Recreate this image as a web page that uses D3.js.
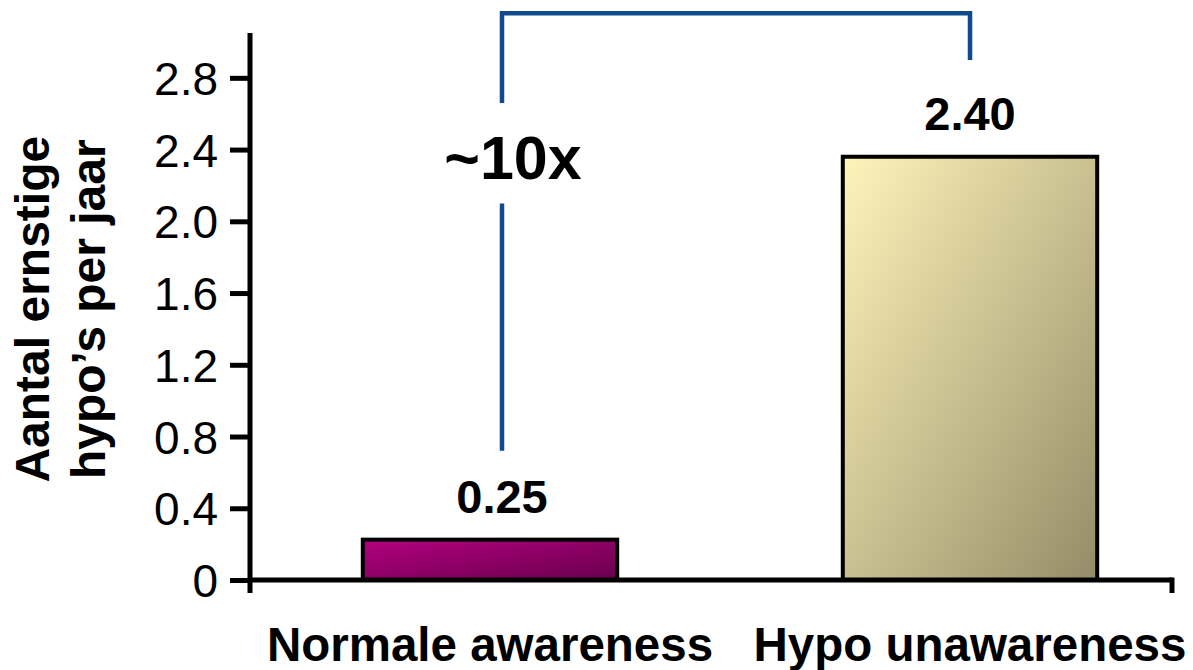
<!DOCTYPE html>
<html>
<head>
<meta charset="utf-8">
<script src="https://cdn.jsdelivr.net/npm/d3@7"></script>
<style>
  body { margin: 0; background: #fff; }
  text { font-family: "Liberation Sans", Arial, sans-serif; fill: #000; }
</style>
</head>
<body>
<div id="chart"></div>
<script>
// data
var categories = ["Normale awareness", "Hypo unawareness"];
var values = [0.225, 2.36];
var valueLabels = ["0.25", "2.40"];
var yTicks = [0, 0.4, 0.8, 1.2, 1.6, 2.0, 2.4, 2.8];
var yTitle = ["Aantal ernstige", "hypo\u2019s per jaar"];
var ratioLabel = "~10x";

var W = 1193, H = 670;

var svg = d3.select("#chart").append("svg")
    .attr("width", W)
    .attr("height", H);

// gradients
var defs = svg.append("defs");
var grads = [["#b3007f", "#68004c"], ["#fef4ba", "#958c68"]];
grads.forEach(function (g, i) {
    var lg = defs.append("linearGradient")
        .attr("id", "grad" + i)
        .attr("x1", 0).attr("y1", 0).attr("x2", 1).attr("y2", 1);
    lg.append("stop").attr("offset", "0%").attr("stop-color", g[0]);
    lg.append("stop").attr("offset", "100%").attr("stop-color", g[1]);
});

// schalen
var y = d3.scaleLinear().domain([0, 3.05]).range([580, 33]);
var x = d3.scaleBand().domain(categories).range([250, 1210]);
var barW = x.bandwidth() * 0.53;

// staven
svg.selectAll("rect.bar")
    .data(values)
    .enter()
    .append("rect")
    .attr("class", "bar")
    .attr("x", function (d, i) { return x(categories[i]) + (x.bandwidth() - barW) / 2; })
    .attr("y", function (d) { return y(d); })
    .attr("width", barW)
    .attr("height", function (d) { return y(0) - y(d); })
    .style("fill", function (d, i) { return "url(#grad" + i + ")"; })
    .style("stroke", "#000")
    .style("stroke-width", 4);

// as Y
var yAxis = svg.append("g")
    .attr("transform", "translate(250,0)")
    .call(d3.axisLeft(y).tickValues(yTicks).tickSize(20).tickPadding(12)
        .tickFormat(function (d) { return d === 0 ? "0" : d3.format(".1f")(d); }));
yAxis.select(".domain").remove();
yAxis.selectAll(".tick line").attr("stroke", "#000").attr("stroke-width", 5);
yAxis.selectAll(".tick text")
    .style("font-size", "46px")
    .attr("dy", "0.36em");

// aslijnen
svg.append("line")
    .attr("x1", 250).attr("x2", 250)
    .attr("y1", y.range()[1]).attr("y2", y(0) + 13)
    .attr("stroke", "#000").attr("stroke-width", 5);
svg.append("line")
    .attr("x1", 250).attr("x2", 1172)
    .attr("y1", y(0)).attr("y2", y(0))
    .attr("stroke", "#000").attr("stroke-width", 5);
svg.append("line")
    .attr("x1", 1172).attr("x2", 1172)
    .attr("y1", y(0) - 2.5).attr("y2", y(0) + 13)
    .attr("stroke", "#000").attr("stroke-width", 5);

// categorie labels
svg.selectAll("text.cat")
    .data(categories)
    .enter()
    .append("text")
    .attr("class", "cat")
    .attr("x", function (d) { return x(d) + x.bandwidth() / 2; })
    .attr("y", 661)
    .attr("text-anchor", "middle")
    .style("font-size", "47.5px")
    .style("font-weight", "bold")
    .text(function (d) { return d; });

// waarde labels
var labelShift = [12, 0];
svg.selectAll("text.val")
    .data(values)
    .enter()
    .append("text")
    .attr("class", "val")
    .attr("x", function (d, i) { return x(categories[i]) + x.bandwidth() / 2 + labelShift[i]; })
    .attr("y", function (d) { return y(d) - 27; })
    .attr("text-anchor", "middle")
    .style("font-size", "47px")
    .style("font-weight", "bold")
    .text(function (d, i) { return valueLabels[i]; });

// titel Y-as
var yt = svg.append("text")
    .attr("transform", "translate(0," + y(1.51) + ") rotate(-90)")
    .attr("text-anchor", "middle")
    .style("font-size", "48px")
    .style("font-weight", "bold");
yt.selectAll("tspan")
    .data(yTitle)
    .enter()
    .append("tspan")
    .attr("x", 0)
    .attr("y", function (d, i) { return 49 + i * 56; })
    .text(function (d) { return d; });

// haak ~10x
var xl = x(categories[0]) + x.bandwidth() / 2 + 12;
var xr = x(categories[1]) + x.bandwidth() / 2;
var blue = "#0f4a8e";
svg.append("path")
    .attr("d", "M" + xl + "," + y(2.66) + "V" + y(3.16) + "H" + xr + "V" + y(2.9))
    .attr("fill", "none").attr("stroke", blue).attr("stroke-width", 4.5);
svg.append("path")
    .attr("d", "M" + xl + "," + y(2.1) + "V" + y(0.72))
    .attr("fill", "none").attr("stroke", blue).attr("stroke-width", 4.5);
svg.append("text")
    .attr("x", xl + 11)
    .attr("y", 179)
    .attr("text-anchor", "middle")
    .style("font-size", "61px")
    .style("font-weight", "bold")
    .text(ratioLabel);
</script>
</body>
</html>
